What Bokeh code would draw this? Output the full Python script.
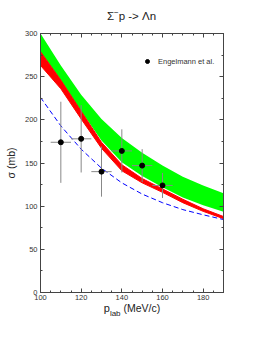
from bokeh.plotting import figure
from bokeh.layouts import column
from bokeh.models import (Range1d, LinearAxis, FixedTicker, Legend, LegendItem,
                          ColumnDataSource, Div)
from bokeh.embed import file_html
from bokeh.resources import INLINE

# ---- data ----
p_curve = [100, 110, 120, 130, 140, 150, 160, 170, 180, 190]
green_hi = [300, 263, 229, 201, 179, 162, 147, 134, 124, 115]
green_lo = [279, 246, 210, 176, 151, 135, 122, 110, 101, 93.5]
red_hi = [279, 246, 210, 174, 148, 132, 120, 108, 97, 88]
red_lo = [263, 236, 201, 167, 141, 127, 116, 104, 94, 85.5]
blue = [226, 193, 166, 144, 127, 114, 104, 96, 90, 84.5]

p_data = [110, 120, 130, 140, 150, 160]
sigma_data = [174, 178, 140, 164, 147, 124]
sigma_err = [47, 39, 29, 25, 19, 14.5]
p_err = [5, 5, 5, 5, 5, 5]

x_ticks = [100, 120, 140, 160, 180]
y_ticks = [0, 50, 100, 150, 200, 250, 300]

FONT = "Liberation Sans"

title = Div(text=('<div style="width:263px;text-align:center;font-family:\'Liberation Sans\';'
                  'font-size:11.5px;line-height:26px;color:#222222">Σ<sup style="font-size:8px">−</sup>p -&gt; Λn</div>'),
            width=263, height=26, margin=0)

p = figure(width=263, height=278, output_backend="svg", toolbar_location=None,
           x_range=Range1d(100, 190), y_range=Range1d(0, 300),
           min_border_left=40, min_border_right=40, min_border_top=7, min_border_bottom=12,
           x_axis_location=None, y_axis_location=None)
p.grid.visible = False
p.outline_line_color = "#444444"
p.background_fill_color = "white"
p.border_fill_color = "white"

def style_axis(ax, labels, ticks, minor):
    ax.ticker = FixedTicker(ticks=ticks, minor_ticks=minor)
    ax.major_tick_in = 4
    ax.major_tick_out = 0
    ax.minor_tick_in = 2
    ax.minor_tick_out = 0
    ax.axis_line_color = "#444444"
    ax.major_tick_line_color = "#444444"
    ax.minor_tick_line_color = "#444444"
    ax.major_label_text_font = FONT
    ax.major_label_text_font_size = "7.5px"
    ax.major_label_text_color = "#333333"
    if not labels:
        ax.major_label_overrides = {t: "" for t in ticks}
        ax.major_label_text_font_size = "1px"
        ax.major_label_standoff = 0

xminor = [v for v in range(100, 191, 5) if v not in x_ticks]
yminor = [v for v in range(0, 301, 25) if v not in y_ticks]

for loc in ["below", "above"]:
    ax = LinearAxis()
    style_axis(ax, loc == "below", x_ticks, xminor)
    if loc == "below":
        ax.major_label_standoff = 2
    p.add_layout(ax, loc)
for loc in ["left", "right"]:
    ax = LinearAxis()
    style_axis(ax, loc == "left", y_ticks, yminor)
    if loc == "left":
        ax.major_label_standoff = 3
        ax.axis_label = "σ (mb)"
        ax.axis_label_text_font = FONT
        ax.axis_label_text_font_size = "10.5px"
        ax.axis_label_text_font_style = "normal"
        ax.axis_label_text_color = "#222222"
        ax.axis_label_standoff = 5
    p.add_layout(ax, loc)

# bands and curves
p.varea(x=p_curve, y1=green_lo, y2=green_hi, fill_color="#00ff00")
p.varea(x=p_curve, y1=red_lo, y2=red_hi, fill_color="#ff0000")
p.line(x=p_curve, y=red_hi, line_color="#ff0000", line_width=1)
p.line(x=p_curve, y=red_lo, line_color="#ff0000", line_width=1)
p.line(x=p_curve, y=blue, line_color="#0000ff", line_width=1, line_dash="5 3")

# data with error bars
src = ColumnDataSource(dict(
    x=p_data, y=sigma_data,
    ylo=[s - e for s, e in zip(sigma_data, sigma_err)],
    yhi=[s + e for s, e in zip(sigma_data, sigma_err)],
    xlo=[x - e for x, e in zip(p_data, p_err)],
    xhi=[x + e for x, e in zip(p_data, p_err)],
))
p.segment(x0="x", y0="ylo", x1="x", y1="yhi", source=src, line_color="#888888", line_width=1)
p.segment(x0="xlo", y0="y", x1="xhi", y1="y", source=src, line_color="#888888", line_width=1)
pts = p.scatter(x="x", y="y", source=src, size=5, marker="circle",
                fill_color="black", line_color="black")

legend = Legend(items=[LegendItem(label="Engelmann et al.", renderers=[pts])],
                location=(102, 226), glyph_width=10, glyph_height=10, label_height=10,
                label_standoff=6, padding=0, margin=0, border_line_color=None,
                background_fill_alpha=0, label_text_font=FONT, label_text_font_size="7.5px",
                label_text_color="#333333", spacing=0)
p.add_layout(legend, "center")

xlabel = Div(text=('<div style="width:263px;text-align:center;font-family:\'Liberation Sans\';'
                   'font-size:10.5px;line-height:11px;color:#222222;padding-left:1px;'
                   'position:relative;top:-4px">'
                   '<span style="font-size:11px">p</span>'
                   '<span style="font-size:8px;position:relative;top:4px">lab</span>'
                   ' (MeV/c)</div>'),
             width=263, height=20, margin=0)

layout = column(title, p, xlabel, spacing=0)

open("out.html", "w").write(file_html(layout, INLINE))
